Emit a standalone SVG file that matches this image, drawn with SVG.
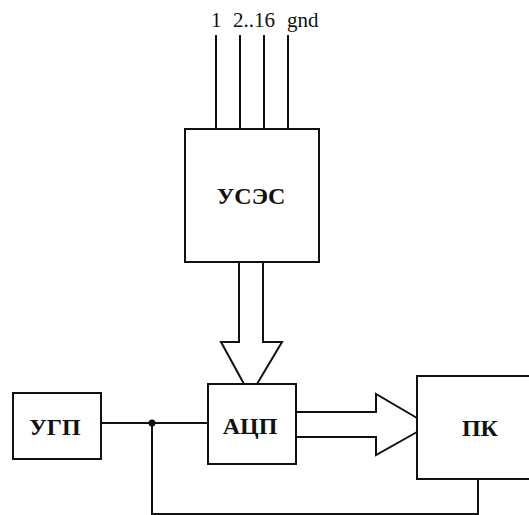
<svg xmlns="http://www.w3.org/2000/svg" width="529" height="515" viewBox="0 0 529 515">
<style>
.box{fill:#fff;stroke:#111;stroke-width:2}
.ln{fill:none;stroke:#111;stroke-width:2}
.lbl{font-family:'Liberation Serif','Times New Roman',Tinos,'DejaVu Serif',serif;font-weight:bold;font-size:24px;fill:#111;text-anchor:middle}
.pin{font-family:'Liberation Serif','Times New Roman',Tinos,'DejaVu Serif',serif;font-size:21px;fill:#111}
</style>
<rect width="529" height="515" fill="#fff"/>
<g id="connectors">
<line class="ln" x1="216" y1="35" x2="216" y2="129"/>
<line class="ln" x1="240" y1="35" x2="240" y2="129"/>
<line class="ln" x1="264" y1="35" x2="264" y2="129"/>
<line class="ln" x1="288" y1="35" x2="288" y2="129"/>
<polyline class="ln" points="239,262 239,342 221,342 244,384"/>
<polyline class="ln" points="263,262 263,342 282,342 257,384"/>
<polyline class="ln" points="296,412 376,412 376,394 417,418"/>
<polyline class="ln" points="296,437 376,437 376,455 417,432"/>
<line class="ln" x1="101" y1="423" x2="208" y2="423"/>
<polyline class="ln" points="152,423 152,514 478,514 478,479"/>
<circle cx="152" cy="423" r="3.5" fill="#111"/>
</g>
<g id="pins">
<text class="pin" x="211" y="27" font-family="Liberation Serif, serif">1</text>
<text class="pin" x="233" y="27" font-family="Liberation Serif, serif">2..16</text>
<text class="pin" x="287" y="27" font-family="Liberation Serif, serif">gnd</text>
</g>
<g id="usas">
<rect class="box" x="185" y="129" width="134" height="133"/>
<text class="lbl" x="251" y="204">УСЭС</text>
</g>
<g id="ugp">
<rect class="box" x="13" y="393" width="88" height="66"/>
<text class="lbl" x="55" y="435">УГП</text>
</g>
<g id="acp">
<rect class="box" x="208" y="384" width="88" height="80"/>
<text class="lbl" x="250" y="434">АЦП</text>
</g>
<g id="pk">
<rect class="box" x="417" y="376" width="125" height="103"/>
<text class="lbl" x="480" y="436">ПК</text>
</g>
</svg>
